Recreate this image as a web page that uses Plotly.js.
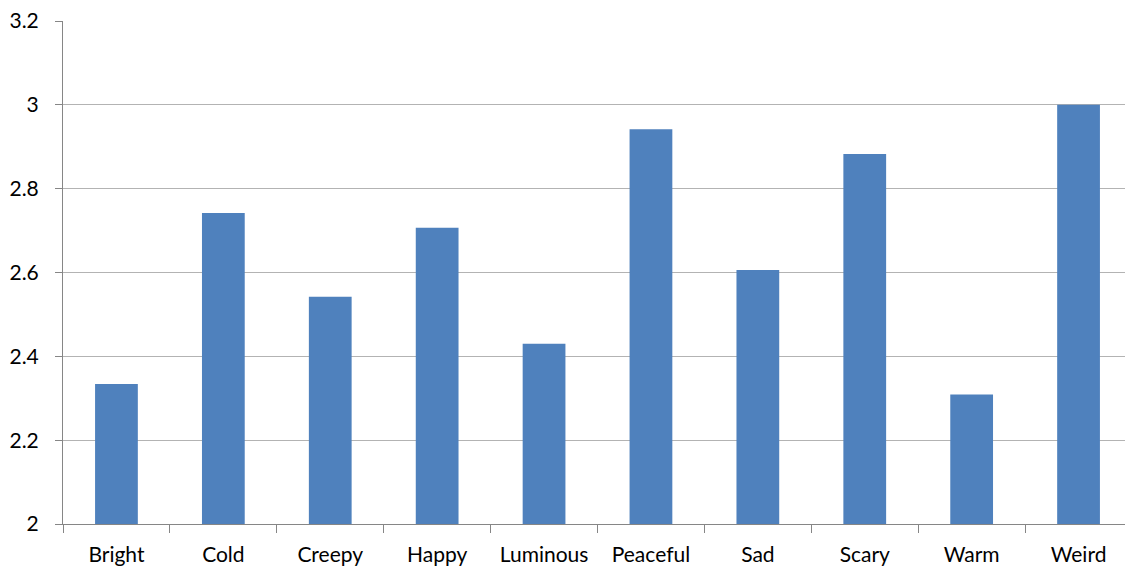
<!DOCTYPE html>
<html>
<head>
<meta charset="utf-8">
<script src="https://cdn.plot.ly/plotly-3.0.1.min.js"></script>
<style>
html,body{margin:0;padding:0;overflow:hidden;background:#fff;}
#chart{width:1133px;height:567px;}
</style>
</head>
<body>
<div id="chart"></div>
<script>
const categories = ["Bright","Cold","Creepy","Happy","Luminous","Peaceful","Sad","Scary","Warm","Weird"];
const values = [2.334, 2.742, 2.542, 2.707, 2.430, 2.942, 2.606, 2.883, 2.309, 3.0];
const yTicks = [2, 2.2, 2.4, 2.6, 2.8, 3, 3.2];
const baseline = 2;

const trace = {
  type: "bar",
  x: categories,
  y: values.map(v => v - baseline),
  base: baseline,
  marker: {color: "#4F81BD"},
  hoverinfo: "x+y"
};

const layout = {
  width: 1133,
  height: 567,
  margin: {l: 63, r: 1, t: 21, b: 43},
  paper_bgcolor: "#ffffff",
  plot_bgcolor: "#ffffff",
  bargap: 0.6,
  showlegend: false,
  font: {family: "Lato, 'Open Sans', sans-serif", size: 21, color: "#000000"},
  xaxis: {
    type: "category",
    showgrid: false,
    showline: true,
    linecolor: "#868686",
    linewidth: 1,
    ticks: "outside",
    tickson: "boundaries",
    ticklen: 8,
    tickcolor: "#868686",
    tickfont: {size: 21},
    ticklabelstandoff: 12
  },
  yaxis: {
    range: [2, 3.2],
    tickvals: yTicks,
    ticktext: yTicks.map(String),
    showgrid: true,
    gridcolor: "#b3b3b3",
    gridwidth: 1,
    zeroline: false,
    showline: true,
    linecolor: "#868686",
    ticks: "outside",
    ticklen: 7,
    tickcolor: "#868686",
    tickfont: {size: 21},
    ticklabelstandoff: 12
  }
};

Plotly.newPlot("chart", [trace], layout, {displayModeBar: false, staticPlot: true});
</script>
</body>
</html>
